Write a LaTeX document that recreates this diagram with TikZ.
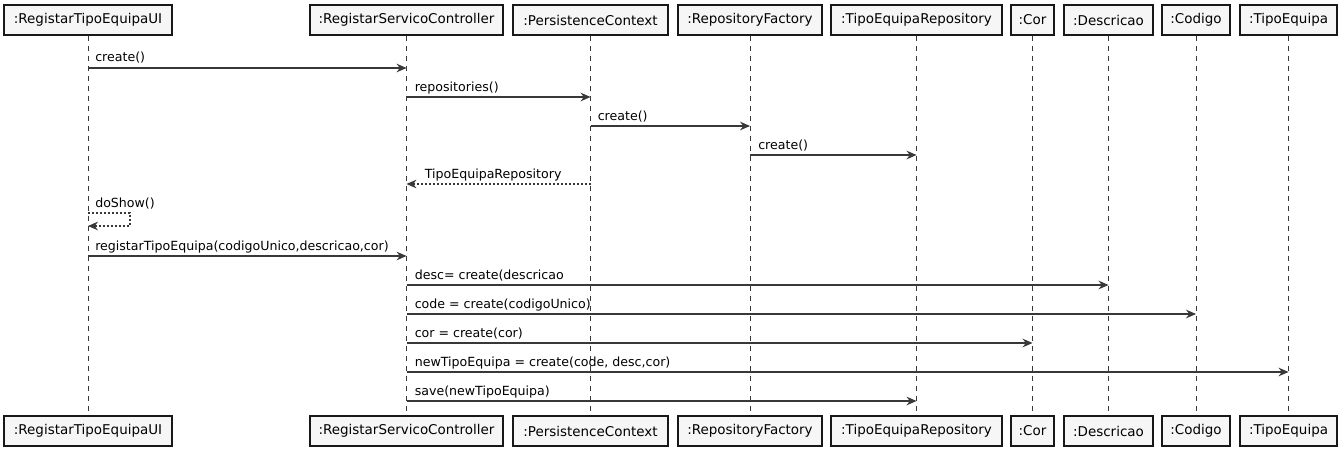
\documentclass[tikz,border=0pt]{standalone}
\usepackage{fontspec}
\setmainfont{DejaVu Sans}
\usetikzlibrary{arrows.meta,calc}
\definecolor{boxfill}{HTML}{F6F6F6}
\definecolor{ink}{HTML}{181818}
\definecolor{linec}{HTML}{383838}
\begin{document}
\begin{tikzpicture}[x=0.75pt,y=-0.75pt,
  part/.style={draw=ink,fill=boxfill,line width=1.1pt,minimum height=22.5pt,inner sep=0pt,font=\fontsize{10.1}{12}\selectfont},
  life/.style={draw=linec,line width=0.75pt,dash pattern=on 3.75pt off 3.75pt},
  msg/.style={draw=linec,line width=0.8pt,-{Stealth[length=7.5pt,width=6.5pt,inset=2.5pt]}},
  ret/.style={msg,dash pattern=on 1.5pt off 1.5pt},
  lbl/.style={anchor=base west,inner sep=0pt,font=\fontsize{9.45}{11}\selectfont,text=black}]
\useasboundingbox (0,0) rectangle (1341,453);
% participants top
\node[part,minimum width=126pt]    (pUI)   at (88,20)    {:RegistarTipoEquipaUI};
\node[part,minimum width=144.75pt] (pCtl)  at (406.5,20) {:RegistarServicoController};
\node[part,minimum width=116.25pt] (pPC)   at (590.5,20) {:PersistenceContext};
\node[part,minimum width=108pt]    (pRF)   at (750,20)   {:RepositoryFactory};
\node[part,minimum width=128.25pt] (pTR)   at (916.5,20) {:TipoEquipaRepository};
\node[part,minimum width=32.25pt]  (pCor)  at (1032.5,20){:Cor};
\node[part,minimum width=66.75pt]  (pDesc) at (1108.5,20){:Descricao};
\node[part,minimum width=51pt]     (pCod)  at (1196,20)  {:Codigo};
\node[part,minimum width=72.75pt]  (pTE)   at (1288.5,20){:TipoEquipa};
% participants bottom
\node[part,minimum width=126pt]    (qUI)   at (88,431)    {:RegistarTipoEquipaUI};
\node[part,minimum width=144.75pt] (qCtl)  at (406.5,431) {:RegistarServicoController};
\node[part,minimum width=116.25pt] (qPC)   at (590.5,431) {:PersistenceContext};
\node[part,minimum width=108pt]    (qRF)   at (750,431)   {:RepositoryFactory};
\node[part,minimum width=128.25pt] (qTR)   at (916.5,431) {:TipoEquipaRepository};
\node[part,minimum width=32.25pt]  (qCor)  at (1032.5,431){:Cor};
\node[part,minimum width=66.75pt]  (qDesc) at (1108.5,431){:Descricao};
\node[part,minimum width=51pt]     (qCod)  at (1196,431)  {:Codigo};
\node[part,minimum width=72.75pt]  (qTE)   at (1288.5,431){:TipoEquipa};
% lifelines
\foreach \n in {UI,Ctl,PC,RF,TR,Cor,Desc,Cod,TE}
  \draw[life] (p\n.south) -- (q\n.north);
% rows
\coordinate (r1) at (0,68);
\coordinate (r2) at (0,97);
\coordinate (r3) at (0,126);
\coordinate (r4) at (0,155);
\coordinate (r5) at (0,184);
\coordinate (r7) at (0,256);
\coordinate (r8) at (0,285);
\coordinate (r9) at (0,314);
\coordinate (r10) at (0,343);
\coordinate (r11) at (0,372);
\coordinate (r12) at (0,401);
% messages
\draw[msg] (pUI |- r1) -- (pCtl |- r1);
\node[lbl] (m1) at ($(pUI |- r1)+(7,-6)$) {create()};
\draw[msg] (pCtl |- r2) -- (pPC |- r2);
\node[lbl] (m2) at ($(pCtl |- r2)+(8,-6)$) {repositories()};
\draw[msg] (pPC |- r3) -- (pRF |- r3);
\node[lbl] (m3) at ($(pPC |- r3)+(7,-6)$) {create()};
\draw[msg] (pRF |- r4) -- (pTR |- r4);
\node[lbl] (m4) at ($(pRF |- r4)+(8,-6)$) {create()};
\draw[ret] (pPC |- r5) -- (pCtl |- r5);
\node[lbl] (m5) at ($(pCtl |- r5)+(18,-6)$) {TipoEquipaRepository};
% self message
\coordinate (s1) at (88,213);
\coordinate (s2) at (130,213);
\coordinate (s3) at (130,226);
\coordinate (s4) at (88,226);
\draw[ret] (s1) -- (s2) -- (s3) -- (s4);
\node[lbl] (m6) at (95,207) {doShow()};
\draw[msg] (pUI |- r7) -- (pCtl |- r7);
\node[lbl] (m7) at ($(pUI |- r7)+(7,-6)$) {registarTipoEquipa(codigoUnico,descricao,cor)};
\draw[msg] (pCtl |- r8) -- (pDesc |- r8);
\node[lbl] (m8) at ($(pCtl |- r8)+(8,-6)$) {desc= create(descricao};
\draw[msg] (pCtl |- r9) -- (pCod |- r9);
\node[lbl] (m9) at ($(pCtl |- r9)+(8,-6)$) {code = create(codigoUnico)};
\draw[msg] (pCtl |- r10) -- (pCor |- r10);
\node[lbl] (m10) at ($(pCtl |- r10)+(8,-6)$) {cor = create(cor)};
\draw[msg] (pCtl |- r11) -- (pTE |- r11);
\node[lbl] (m11) at ($(pCtl |- r11)+(8,-6)$) {newTipoEquipa = create(code, desc,cor)};
\draw[msg] (pCtl |- r12) -- (pTR |- r12);
\node[lbl] (m12) at ($(pCtl |- r12)+(8,-6)$) {save(newTipoEquipa)};
\end{tikzpicture}
\end{document}
